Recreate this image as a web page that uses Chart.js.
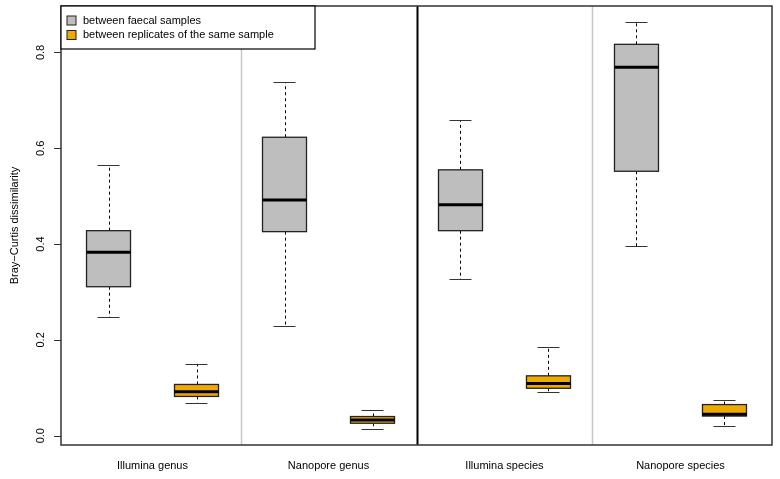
<!DOCTYPE html>
<html>
<head>
<meta charset="utf-8">
<script src="https://cdn.jsdelivr.net/npm/chart.js@4/dist/chart.umd.min.js"></script>
<style>
  html, body { margin: 0; padding: 0; background: #fff; }
  #wrap { width: 780px; height: 479px; position: relative; }
</style>
</head>
<body>
<div id="wrap"><canvas id="chart"></canvas></div>
<script>
// Daten: [unterer Whisker, Q1, Median, Q3, oberer Whisker]
const groups = ['Illumina genus', 'Nanopore genus', 'Illumina species', 'Nanopore species'];
const seriesNames = ['between faecal samples', 'between replicates of the same sample'];
const faecalStats = [
    [0.247, 0.311, 0.383, 0.428, 0.565],
    [0.230, 0.426, 0.492, 0.623, 0.738],
    [0.327, 0.428, 0.482, 0.555, 0.659],
    [0.395, 0.552, 0.769, 0.817, 0.863]
];
const replicateStats = [
    [0.069, 0.082, 0.092, 0.107, 0.150],
    [0.015, 0.026, 0.033, 0.040, 0.053],
    [0.091, 0.099, 0.109, 0.125, 0.185],
    [0.020, 0.041, 0.045, 0.065, 0.075]
];
const yTicks = [0, 0.2, 0.4, 0.6, 0.8];
const yTitle = 'Bray\u2212Curtis dissimilarity';

const fillColors = ['#bebebe', '#eeaa00'];
const FONT = '11px "Liberation Sans", Arial, sans-serif';

// Positionen: pro Gruppe zwei Boxen (1,2), (3,4), ...
function boxPos(g, s) { return g * 2 + s + 1; }

const datasets = [faecalStats, replicateStats].map((stats, s) => ({
    label: seriesNames[s],
    data: stats.map((st, g) => ({ x: boxPos(g, s), y: st[2] })),
    pointRadius: 0,
    backgroundColor: fillColors[s]
}));

const boxPlugin = {
    id: 'boxPlugin',
    afterDatasetsDraw(chart) {
        const ctx = chart.ctx;
        const xs = chart.scales.x;
        const ys = chart.scales.y;
        const area = chart.chartArea;
        const px = v => xs.getPixelForValue(v);
        const py = v => ys.getPixelForValue(v);

        ctx.save();

        // Trennlinien zwischen den Gruppen
        [[2.5, '#c8c8c8', 1.5], [4.5, '#000', 2], [6.5, '#c8c8c8', 1.5]].forEach(([v, c, w]) => {
            ctx.strokeStyle = c;
            ctx.lineWidth = w;
            ctx.beginPath();
            ctx.moveTo(Math.round(px(v)) + 0.5, area.top);
            ctx.lineTo(Math.round(px(v)) + 0.5, area.bottom);
            ctx.stroke();
        });

        // Boxen zeichnen
        [faecalStats, replicateStats].forEach((stats, s) => {
            stats.forEach((st, g) => {
                const c = boxPos(g, s);
                const xl = px(c - 0.25), xr = px(c + 0.25);
                const xc = Math.round(px(c)) + 0.5;
                const sl = px(c - 0.125), sr = px(c + 0.125);
                const [lo, q1, med, q3, hi] = st.map(py);

                // Whisker gestrichelt
                ctx.strokeStyle = '#000';
                ctx.lineWidth = 1;
                ctx.setLineDash([3, 3]);
                ctx.beginPath();
                ctx.moveTo(xc, q3); ctx.lineTo(xc, hi);
                ctx.moveTo(xc, q1); ctx.lineTo(xc, lo);
                ctx.stroke();
                ctx.setLineDash([]);

                // Staples
                ctx.strokeStyle = '#333';
                ctx.beginPath();
                ctx.moveTo(sl, Math.round(hi) + 0.5); ctx.lineTo(sr, Math.round(hi) + 0.5);
                ctx.moveTo(sl, Math.round(lo) + 0.5); ctx.lineTo(sr, Math.round(lo) + 0.5);
                ctx.stroke();

                // Box
                ctx.fillStyle = fillColors[s];
                ctx.fillRect(xl, q3, xr - xl, q1 - q3);
                ctx.strokeStyle = '#222';
                ctx.lineWidth = 1.3;
                ctx.strokeRect(xl, q3, xr - xl, q1 - q3);

                // Median
                ctx.strokeStyle = '#000';
                ctx.lineWidth = 3;
                ctx.beginPath();
                ctx.moveTo(xl, med); ctx.lineTo(xr, med);
                ctx.stroke();
            });
        });

        // Rahmen
        ctx.strokeStyle = '#333';
        ctx.lineWidth = 1.5;
        ctx.strokeRect(area.left, area.top, area.right - area.left, area.bottom - area.top);

        // Y-Achse: Ticks + gedrehte Labels
        ctx.fillStyle = '#000';
        ctx.font = FONT;
        ctx.lineWidth = 1;
        ctx.strokeStyle = '#333';
        yTicks.forEach(t => {
            const y = Math.round(py(t)) + 0.5;
            ctx.beginPath();
            ctx.moveTo(area.left - 7, y); ctx.lineTo(area.left, y);
            ctx.stroke();
            ctx.save();
            ctx.translate(41, py(t));
            ctx.rotate(-Math.PI / 2);
            ctx.textAlign = 'center';
            ctx.textBaseline = 'middle';
            ctx.fillText(t.toFixed(1), 0, 0);
            ctx.restore();
        });

        // Y-Titel
        ctx.save();
        ctx.translate(15, (area.top + area.bottom) / 2);
        ctx.rotate(-Math.PI / 2);
        ctx.textAlign = 'center';
        ctx.textBaseline = 'middle';
        ctx.fillText(yTitle, 0, 0);
        ctx.restore();

        // Gruppennamen
        ctx.textAlign = 'center';
        ctx.textBaseline = 'middle';
        groups.forEach((name, g) => {
            ctx.fillText(name, px(g * 2 + 1.5), 466);
        });

        // Legende
        const lx = area.left, ly = area.top, lw = 254, lh = 43;
        ctx.fillStyle = '#fff';
        ctx.fillRect(lx, ly, lw, lh);
        ctx.strokeStyle = '#000';
        ctx.lineWidth = 1.2;
        ctx.strokeRect(lx, ly, lw, lh);
        seriesNames.forEach((name, s) => {
            const cy = ly + 14.5 + s * 14.5;
            ctx.fillStyle = fillColors[s];
            ctx.fillRect(lx + 6, cy - 4.5, 9, 9);
            ctx.strokeStyle = '#222';
            ctx.lineWidth = 1;
            ctx.strokeRect(lx + 6, cy - 4.5, 9, 9);
            ctx.fillStyle = '#000';
            ctx.textAlign = 'left';
            ctx.fillText(name, lx + 22, cy);
        });

        ctx.restore();
    }
};

new Chart(document.getElementById('chart'), {
    type: 'scatter',
    data: { datasets: datasets },
    options: {
        responsive: true,
        maintainAspectRatio: false,
        animation: false,
        devicePixelRatio: 1,
        layout: { padding: { left: 61, right: 8, top: 6, bottom: 34 } },
        plugins: {
            legend: { display: false },
            tooltip: { enabled: false }
        },
        scales: {
            x: { type: 'linear', min: 0.46, max: 8.54, display: false },
            y: { type: 'linear', min: -0.0194, max: 0.897, display: false }
        }
    },
    plugins: [boxPlugin]
});
</script>
</body>
</html>
